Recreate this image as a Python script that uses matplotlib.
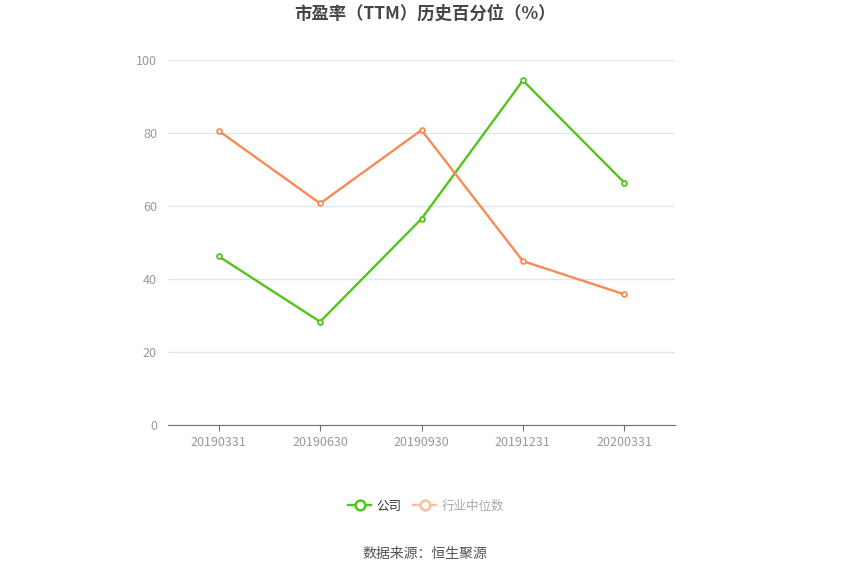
import matplotlib.pyplot as plt
from matplotlib.lines import Line2D

plt.rcParams['font.family'] = ['Noto Sans CJK SC', 'DejaVu Sans']

dates = ['20190331', '20190630', '20190930', '20191231', '20200331']
company = [46.2, 28.3, 56.5, 94.4, 66.4]
industry = [80.6, 60.7, 80.8, 44.9, 35.8]
yticks = [0, 20, 40, 60, 80, 100]

green = '#52c41a'
orange = '#f98a55'

fig = plt.figure(figsize=(8.5, 5.75), dpi=100)
ax = fig.add_axes([168 / 850, 1 - 425 / 575, 507 / 850, 365 / 575])

x = list(range(len(dates)))
ax.plot(x, company, color=green, lw=1.7, marker='o', ms=3.5, mfc='white', mew=1.3, zorder=3)
ax.plot(x, industry, color=orange, lw=1.7, marker='o', ms=3.5, mfc='white', mew=1.3, zorder=3)

ax.set_xlim(-0.5, len(dates) - 0.5)
ax.set_ylim(0, 100)
ax.set_xticks(x)
ax.set_xticklabels(dates)
ax.set_yticks(yticks)
ax.grid(axis='y', color='#e0e6f1', lw=1)
ax.set_axisbelow(True)
for s in ['top', 'right', 'left']:
    ax.spines[s].set_visible(False)
ax.spines['bottom'].set_color('#6e7079')
ax.tick_params(axis='x', colors='#6e7079', labelcolor='#999999', labelsize=9, length=4, pad=4)
ax.tick_params(axis='y', length=0, labelcolor='#999999', labelsize=9, pad=8)

fig.text(0.5, 1 - 14 / 575, '市盈率（TTM）历史百分位（%）', ha='center', va='center',
         fontsize=12.5, fontweight='bold', color='#464646')

handles = [
    Line2D([0], [0], color=green, lw=1.7, marker='o', ms=7, mfc='white', mew=1.8),
    Line2D([0], [0], color='#fdbda3', lw=1.7, marker='o', ms=7, mfc='white', mew=1.8),
]
leg = fig.legend(handles, ['公司', '行业中位数'], loc='center', bbox_to_anchor=(0.501, 1 - 506 / 575),
                 ncol=2, frameon=False, fontsize=9, handlelength=1.9, columnspacing=0.9, handletextpad=0.4)
leg.get_texts()[0].set_color('#333333')
leg.get_texts()[1].set_color('#aaaaaa')

fig.text(0.5, 1 - 554 / 575, '数据来源：恒生聚源', ha='center', va='center', fontsize=10, color='#555555')

fig.savefig('out.png', dpi=100)
